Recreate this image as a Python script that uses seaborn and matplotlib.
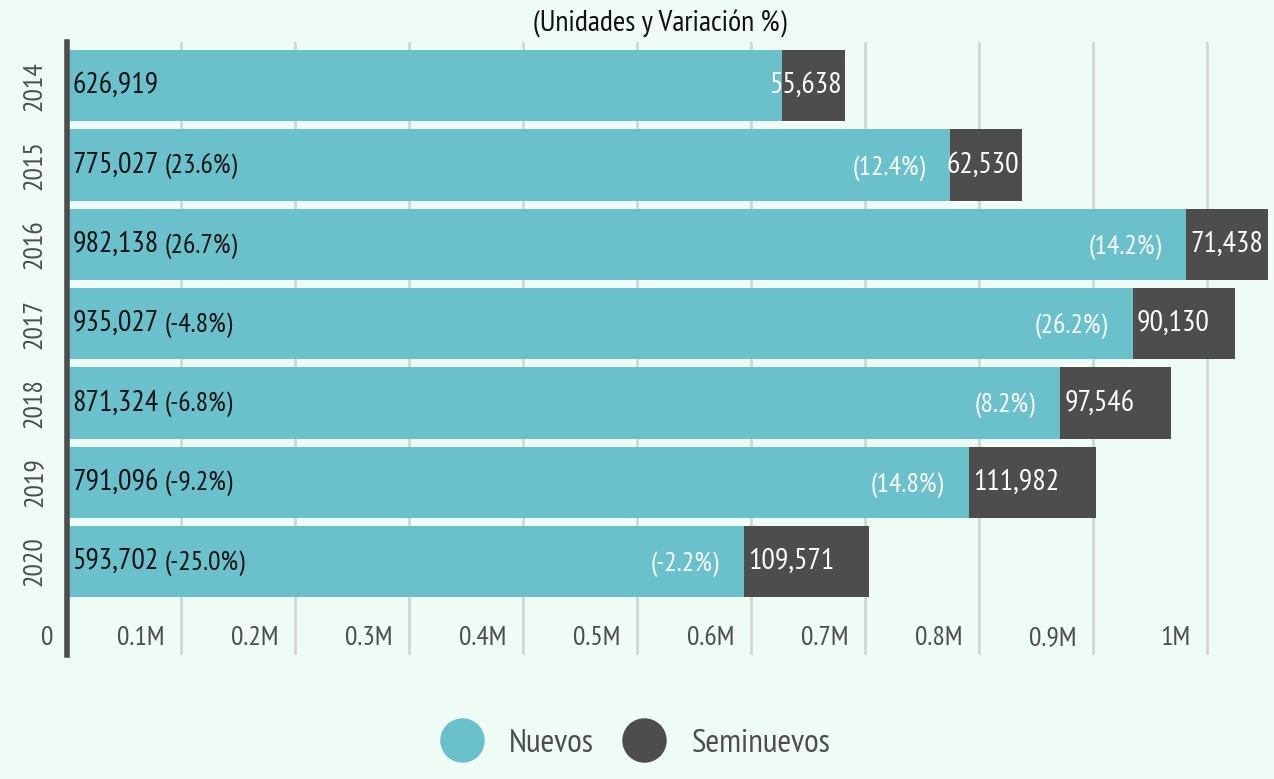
import matplotlib
matplotlib.use("Agg")
import matplotlib.pyplot as plt
import matplotlib.transforms as mtransforms
from matplotlib.lines import Line2D
from matplotlib import font_manager as fm
import seaborn as sns
import pandas as pd

# Data
years = ['2014', '2015', '2016', '2017', '2018', '2019', '2020']
nuevos = [626919, 775027, 982138, 935027, 871324, 791096, 593702]
seminuevos = [55638, 62530, 71438, 90130, 97546, 111982, 109571]
var_nuevos = ['', '(23.6%)', '(26.7%)', '(-4.8%)', '(-6.8%)', '(-9.2%)', '(-25.0%)']
var_semi = ['', '(12.4%)', '(14.2%)', '(26.2%)', '(8.2%)', '(14.8%)', '(-2.2%)']
x_ticks = [0, 100000, 200000, 300000, 400000, 500000, 600000, 700000, 800000, 900000, 1000000]
x_tick_labels = ['0', '0.1M', '0.2M', '0.3M', '0.4M', '0.5M', '0.6M', '0.7M', '0.8M', '0.9M', '1M']

TEAL = '#6ac1cb'
DARK = '#4d4d4d'
BG = '#effcf5'
GRID = '#d0d8d3'

sns.set_theme(style='white')
installed = {f.name for f in fm.fontManager.ttflist}
wanted = ['PT Sans Narrow', 'Roboto Condensed', 'Liberation Sans Narrow', 'Lato']
family = [f for f in wanted if f in installed][:1] + ['DejaVu Sans']
plt.rcParams['font.family'] = family

df = pd.DataFrame({'year': years, 'nuevos': nuevos, 'seminuevos': seminuevos})
df['total'] = df['nuevos'] + df['seminuevos']

fig = plt.figure(figsize=(12.74, 7.79), dpi=100, facecolor=BG)
ax = fig.add_axes([0.0526, 0.159, 0.9474, 0.787])
ax.set_facecolor(BG)

# stacked bars: total in dark, nuevos drawn on top
sns.barplot(data=df, y='year', x='total', color=DARK, orient='h', width=0.9,
            saturation=1, linewidth=0, ax=ax)
sns.barplot(data=df, y='year', x='nuevos', color=TEAL, orient='h', width=0.9,
            saturation=1, linewidth=0, ax=ax)

ax.set_xlim(0, 1059000)
ax.set_ylim(7.18, -0.55)
ax.set_xlabel('')
ax.set_ylabel('')

# grid lines
ax.set_xticks(x_ticks)
ax.set_xticklabels([])
ax.tick_params(axis='x', length=0)
for xv in x_ticks[1:]:
    ax.axvline(xv, color=GRID, lw=2, zorder=0)

for s in ['top', 'right', 'bottom']:
    ax.spines[s].set_visible(False)
ax.spines['left'].set_color(DARK)
ax.spines['left'].set_linewidth(4)
ax.spines['left'].set_zorder(5)

# x tick labels drawn inside the bottom strip, left of each gridline
for xv, lab in zip(x_ticks, x_tick_labels):
    off = mtransforms.ScaledTranslation(-12 / 72 if xv else -10 / 72, 0, fig.dpi_scale_trans)
    tr = mtransforms.blended_transform_factory(ax.transData, ax.transAxes) + off
    ax.text(xv, 0.028, lab, transform=tr, ha='right', va='center',
            fontsize=20, color=DARK)

# year labels
ax.set_yticks(range(len(years)))
ax.set_yticklabels(years, rotation=90, va='center', fontsize=20, color=DARK)
ax.tick_params(axis='y', length=0, pad=15)

# value labels
fig.canvas.draw()
renderer = fig.canvas.get_renderer()
for i in range(len(years)):
    ax.annotate(f'{nuevos[i]:,}', (0, i), xytext=(4, 0), textcoords='offset points',
                ha='left', va='center', fontsize=21.5, color='#111111')
    if var_nuevos[i]:
        ax.annotate(var_nuevos[i], (0, i), xytext=(70, -1), textcoords='offset points',
                    ha='left', va='center', fontsize=20, color='#111111')
        ax.annotate(var_semi[i], (nuevos[i], i), xytext=(-18, -2), textcoords='offset points',
                    ha='right', va='center', fontsize=20, color='white')
    lbl = ax.annotate(f'{seminuevos[i]:,}', (nuevos[i], i), xytext=(3, 0),
                      textcoords='offset points', ha='left', va='center',
                      fontsize=21.5, color='white')
    # keep the label inside the dark segment when it is too narrow
    bar_right = ax.transData.transform((nuevos[i] + seminuevos[i], i))[0]
    if lbl.get_window_extent(renderer).x1 > bar_right - 2:
        lbl.xy = (nuevos[i] + seminuevos[i], i)
        lbl.set_position((-2, 0))
        lbl.set_ha('right')

fig.text(0.518, 0.971, '(Unidades y Variación %)', ha='center', va='center',
         fontsize=21.5, color='#111111')

handles = [Line2D([], [], marker='o', ls='', markersize=31, color=TEAL),
           Line2D([], [], marker='o', ls='', markersize=31, color=DARK)]
leg = fig.legend(handles, ['Nuevos', 'Seminuevos'], loc='center', ncol=2,
                 bbox_to_anchor=(0.494, 0.045), frameon=False, fontsize=24,
                 handletextpad=0.42, columnspacing=0.5)
for t in leg.get_texts():
    t.set_color(DARK)

fig.savefig('out.png', dpi=100, facecolor=BG)
